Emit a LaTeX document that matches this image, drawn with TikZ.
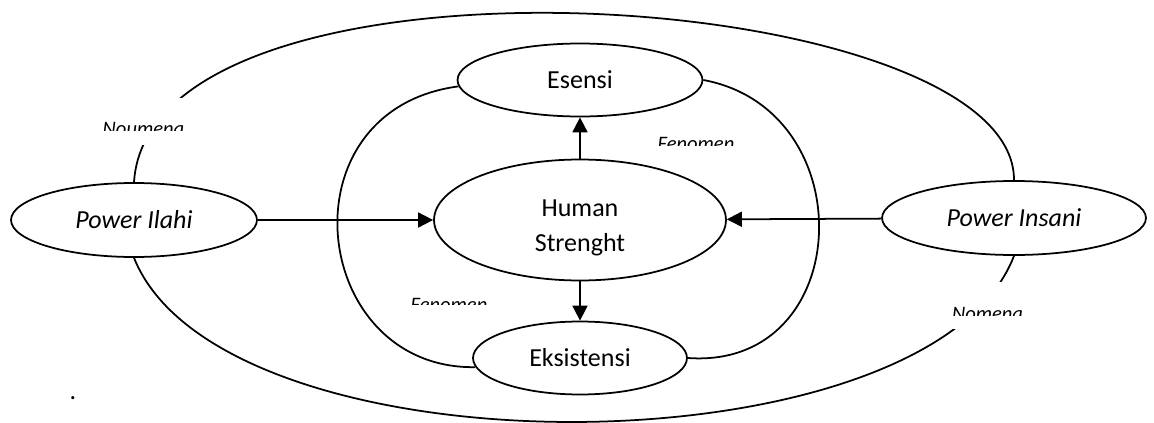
\documentclass[tikz,border=0pt]{standalone}
\usepackage{fontspec}
\setmainfont{Carlito}
\usepackage{tikz}
\usetikzlibrary{shapes.geometric,arrows.meta,positioning}

\begin{document}
\begin{tikzpicture}[x=0.02cm,y=-0.02cm,line width=1pt]
        \tikzstyle{every node}=[inner sep=0pt]
        \tikzstyle{bubble}=[ellipse,draw,fill=white,align=center,font=\fontsize{14.8}{20}\selectfont]
        \tikzstyle{power}=[bubble,font=\fontsize{14.8}{20}\selectfont\itshape]
        \tikzstyle{push}=[-{Triangle[length=0.3cm,width=0.3cm]}]
        \tikzstyle{gapbox}=[fill=white]
        \tikzstyle{cutlabel}=[anchor=base,font=\fontsize{11.7}{14}\selectfont\itshape]
        \useasboundingbox (0,0) rectangle (1154,423);
        % nodes
        \node[power, minimum width=4.92cm, minimum height=1.48cm] (ilahi) at (134,220) {Power Ilahi};
        \node[power, minimum width=5.28cm, minimum height=1.48cm] (insani) at (1014,218) {Power Insani};
        \node[bubble, minimum width=5.84cm, minimum height=2.42cm] (human) at (580,220)
            {\raisebox{-0.14cm}[\height][\depth]{\begin{tabular}{@{}c@{}}Human\\Strenght\end{tabular}}};
        \node[bubble, minimum width=4.9cm, minimum height=1.46cm] (esensi) at (580,80) {Esensi};
        \node[bubble, minimum width=4.28cm, minimum height=1.46cm] (eksistensi) at (580,358) {Eksistensi};
        % arrows
        \draw[push] (ilahi) -- (human);
        \draw[push] (insani) -- (human);
        \draw[push] (human) -- (esensi);
        \draw[push] (human) -- (eksistensi);
        % curves
        \draw (ilahi.north) .. controls (150,-70) and (1015,-15) .. (insani.north);
        \draw (ilahi.south) .. controls (223,479) and (930,475) .. (insani.south);
        \draw (esensi.183) .. controls (280,110) and (310,370) .. (eksistensi.185);
        \draw (esensi.east) .. controls (865,110) and (855,370) .. (eksistensi.east);
        % labels
        \node[gapbox, minimum width=2cm, minimum height=0.94cm] (gapnoumena) at (145,121.5) {};
        \node[gapbox, minimum width=1.7cm, minimum height=0.94cm] (gapnomena) at (987.5,305.5) {};
        \begin{scope}
            \clip (95,98) rectangle (195,130);
            \node[cutlabel] (noumena) at (143.5,135) {Noumena};
        \end{scope}
        \begin{scope}
            \clip (640,120) rectangle (750,145);
            \node[cutlabel] (fenomena) at (696,150) {Fenomen};
        \end{scope}
        \begin{scope}
            \clip (400,280) rectangle (500,304.5);
            \node[cutlabel] (fenomenb) at (449,311) {Fenomen};
        \end{scope}
        \begin{scope}
            \clip (945,282) rectangle (1030,315);
            \node[cutlabel] (nomena) at (987.5,320) {Nomena};
        \end{scope}
        \node[anchor=base, font=\fontsize{14.8}{20}\selectfont] (dot) at (73,399.5) {.};
\end{tikzpicture}
\end{document}
